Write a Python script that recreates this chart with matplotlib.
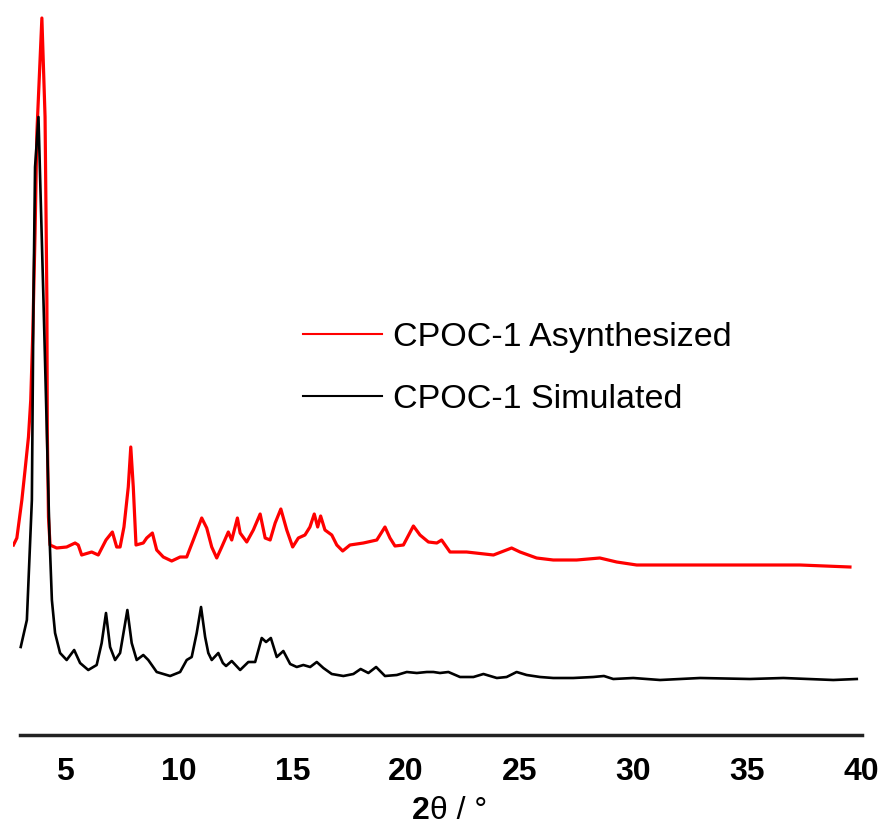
import matplotlib
matplotlib.use("Agg")
import matplotlib.pyplot as plt

# PXRD patterns, intensities in arbitrary units (simulated pattern sits below the measured one)
two_theta_sim = [3.05, 3.32, 3.54, 3.61, 3.68, 3.83, 4.05, 4.20, 4.31, 4.42, 4.56, 4.78,
                 5.07, 5.40, 5.66, 6.02, 6.39, 6.61, 6.80, 6.98, 7.20, 7.42, 7.74, 7.93,
                 8.15, 8.44, 8.66, 9.03, 9.62, 10.06, 10.35, 10.57, 10.79, 10.98, 11.16,
                 11.30, 11.45, 11.74, 11.94, 12.08, 12.33, 12.70, 13.06, 13.36, 13.65,
                 13.84, 14.05, 14.31, 14.60, 14.90, 15.19, 15.48, 15.78, 16.07, 16.36,
                 16.73, 17.24, 17.68, 18.00, 18.34, 18.68, 19.07, 19.59, 20.03, 20.47,
                 20.91, 21.20, 21.49, 21.86, 22.37, 22.96, 23.40, 23.99, 24.42, 24.86,
                 25.30, 25.89, 26.47, 27.35, 28.23, 28.70, 29.11, 29.99, 31.17, 32.93,
                 35.12, 36.59, 38.79, 39.82]
intensity_sim = [88, 115, 235, 435, 568, 618, 435, 302, 202, 135, 102, 82,
                 75, 85, 72, 65, 70, 92, 122, 88, 75, 82, 125, 92,
                 75, 80, 75, 63, 59, 63, 75, 78, 102, 128, 98,
                 82, 75, 82, 72, 69, 74, 65, 73, 73, 97,
                 93, 97, 78, 84, 71, 68, 70, 68, 73, 67,
                 61, 59, 61, 66, 62, 68, 59, 60, 63, 62,
                 63, 63, 62, 63, 58, 58, 61, 57, 58, 63,
                 60, 58, 57, 57, 58, 59, 56, 57, 55, 57,
                 56, 57, 55, 56]

two_theta_exp = [2.73, 2.88, 3.10, 3.24, 3.39, 3.49, 3.58, 3.68, 3.76, 3.98, 4.12, 4.20,
                 4.22, 4.27, 4.34, 4.63, 5.07, 5.44, 5.58, 5.73, 6.17, 6.46, 6.80, 7.08,
                 7.27, 7.42, 7.59, 7.78, 7.89, 8.00, 8.12, 8.44, 8.59, 8.84, 9.03, 9.32,
                 9.69, 10.06, 10.35, 10.64, 11.01, 11.23, 11.45, 11.67, 11.89, 12.18,
                 12.33, 12.58, 12.70, 12.99, 13.28, 13.58, 13.80, 14.02, 14.24, 14.49,
                 14.75, 15.01, 15.26, 15.55, 15.77, 15.96, 16.11, 16.24, 16.43, 16.73,
                 16.95, 17.21, 17.53, 18.12, 18.71, 19.07, 19.29, 19.51, 19.88, 20.32,
                 20.61, 20.98, 21.35, 21.56, 21.93, 22.66, 23.84, 24.64, 25.01, 25.74,
                 26.47, 27.50, 28.52, 29.26, 30.14, 31.46, 34.39, 37.32, 39.52]
intensity_exp = [190, 197, 235, 265, 298, 335, 402, 502, 602, 717, 618, 435,
                 302, 218, 190, 187, 188, 192, 190, 180, 183, 180, 195, 203,
                 188, 188, 208, 248, 288, 248, 190, 192, 197, 202, 185, 178,
                 174, 178, 178, 195, 217, 207, 188, 177, 188, 203,
                 195, 217, 202, 193, 205, 221, 197, 195, 212, 226,
                 205, 188, 197, 200, 208, 221, 208, 219, 205, 200,
                 190, 184, 190, 192, 195, 208, 197, 189, 190, 209,
                 200, 193, 192, 195, 183, 183, 180, 187, 183, 177,
                 175, 175, 177, 173, 170, 170, 170, 170, 168]

x_ticks = [5, 10, 15, 20, 25, 30, 35, 40]

fig = plt.figure(figsize=(8.81, 8.31), dpi=100)
ax = fig.add_axes([13 / 881, 96 / 831, 849 / 881, 725 / 831])

ax.plot(two_theta_exp, intensity_exp, color="#ff0000", lw=2.3, label="CPOC-1 Asynthesized")
ax.plot(two_theta_sim, intensity_sim, color="black", lw=1.9, label="CPOC-1 Simulated")

ax.set_xlim(2.71, 40.05)
ax.set_ylim(0, 725)

for side in ["top", "right", "left"]:
    ax.spines[side].set_visible(False)
ax.spines["bottom"].set_bounds(3.02, 40.05)
ax.spines["bottom"].set_linewidth(2.5)
ax.spines["bottom"].set_color("#222222")

ax.set_yticks([])
ax.set_xticks(x_ticks)
ax.tick_params(axis="x", length=0, pad=16)
for lbl in ax.get_xticklabels():
    lbl.set_fontfamily(["Liberation Sans", "DejaVu Sans"])
    lbl.set_fontweight("bold")
    lbl.set_fontsize(23)

# axis title: bold "2", plain theta and degree sign
fig.text(0.488, 0.024, "2", fontsize=23, fontweight="bold", ha="right", va="center",
         family=["Liberation Sans", "DejaVu Sans"])
fig.text(0.488, 0.024, "θ / °", fontsize=23, ha="left", va="center",
         family=["Liberation Sans", "DejaVu Sans"])

leg = ax.legend(loc="center left", bbox_to_anchor=(0.3416, 0.5055), frameon=False,
                prop={"family": ["Liberation Sans", "DejaVu Sans"], "size": 24.5},
                handlelength=2.32, handletextpad=0.32, labelspacing=0.9,
                borderpad=0, borderaxespad=0)
for line in leg.get_lines():
    line.set_linewidth(1.5)

fig.savefig("out.png", dpi=100)
